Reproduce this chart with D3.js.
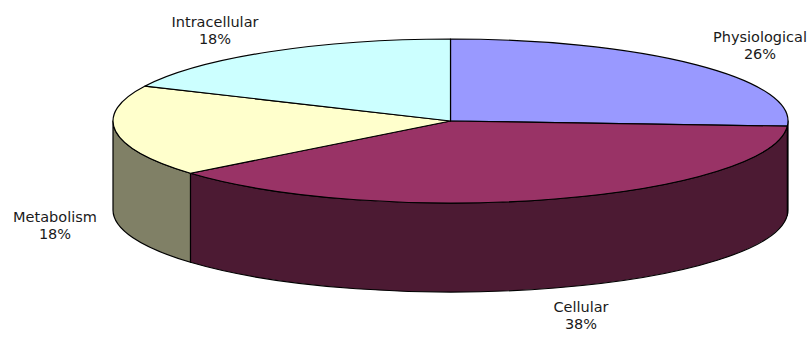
<!DOCTYPE html>
<html>
<head>
<meta charset="utf-8">
<script src="https://cdn.jsdelivr.net/npm/d3@7"></script>
<style>
  html, body { margin: 0; padding: 0; background: #fff; }
  svg { display: block; }
  text { font-family: "DejaVu Sans", Verdana, sans-serif; font-size: 14.5px; fill: #1a1a1a; }
</style>
</head>
<body>
<svg id="chart" width="812" height="337"></svg>
<script>
// Category shares (percent)
const categories = ["Physiological", "Cellular", "Metabolism", "Intracellular"];
const shares = [26, 38, 18, 18];
const topColors = ["#9999FF", "#993366", "#FFFFCC", "#CCFFFF"];
const sideColors = ["#4D4D80", "#4C1A33", "#808066", "#668080"];

// Label anchor points (centre x, first-line baseline)
const labelPos = [[760, 42], [581, 312], [55, 222], [215, 27]];

const W = 812, H = 337;
const cx = 450.5, cy = 121, rx = 337.5, ry = 82, depth = 89;

const svg = d3.select("#chart");

const pie = d3.pie().sort(null).value(d => d).startAngle(0).endAngle(2 * Math.PI);
const arcs = pie(shares);

// Projected point on the ellipse rim for angle t (clockwise from 12 o'clock)
const px = t => cx + rx * Math.sin(t);
const py = t => cy - ry * Math.cos(t);

function topPath(a0, a1) {
  const p = d3.path();
  p.moveTo(cx, cy);
  p.lineTo(px(a0), py(a0));
  const large = (a1 - a0) > Math.PI ? 1 : 0;
  return p.toString() +
    ` A ${rx} ${ry} 0 ${large} 1 ${px(a1)} ${py(a1)} Z`;
}

function sidePath(a0, a1) {
  const s = Math.max(a0, Math.PI / 2), e = Math.min(a1, 3 * Math.PI / 2);
  if (e <= s) return null;
  const large = (e - s) > Math.PI ? 1 : 0;
  return `M ${px(s)} ${py(s)} A ${rx} ${ry} 0 ${large} 1 ${px(e)} ${py(e)}` +
    ` L ${px(e)} ${py(e) + depth}` +
    ` A ${rx} ${ry} 0 ${large} 0 ${px(s)} ${py(s) + depth} Z`;
}

// Outer walls (front half only)
svg.append("g").selectAll("path")
  .data(arcs.filter(d => sidePath(d.startAngle, d.endAngle)))
  .join("path")
  .attr("d", d => sidePath(d.startAngle, d.endAngle))
  .attr("fill", d => sideColors[d.index])
  .attr("stroke", "#000")
  .attr("stroke-width", 1.2)
  .attr("stroke-linejoin", "round");

// Top face
svg.append("g").selectAll("path")
  .data(arcs)
  .join("path")
  .attr("d", d => topPath(d.startAngle, d.endAngle))
  .attr("fill", d => topColors[d.index])
  .attr("stroke", "#000")
  .attr("stroke-width", 1.2)
  .attr("stroke-linejoin", "round");

// Labels: name and percentage
const lbl = svg.append("g").selectAll("text")
  .data(arcs)
  .join("text")
  .attr("text-anchor", "middle")
  .attr("x", d => labelPos[d.index][0])
  .attr("y", d => labelPos[d.index][1]);
lbl.append("tspan").attr("x", d => labelPos[d.index][0]).text(d => categories[d.index]);
lbl.append("tspan").attr("x", d => labelPos[d.index][0]).attr("dy", 17)
  .text(d => d3.format(".0f")(d.data) + "%");
</script>
</body>
</html>
